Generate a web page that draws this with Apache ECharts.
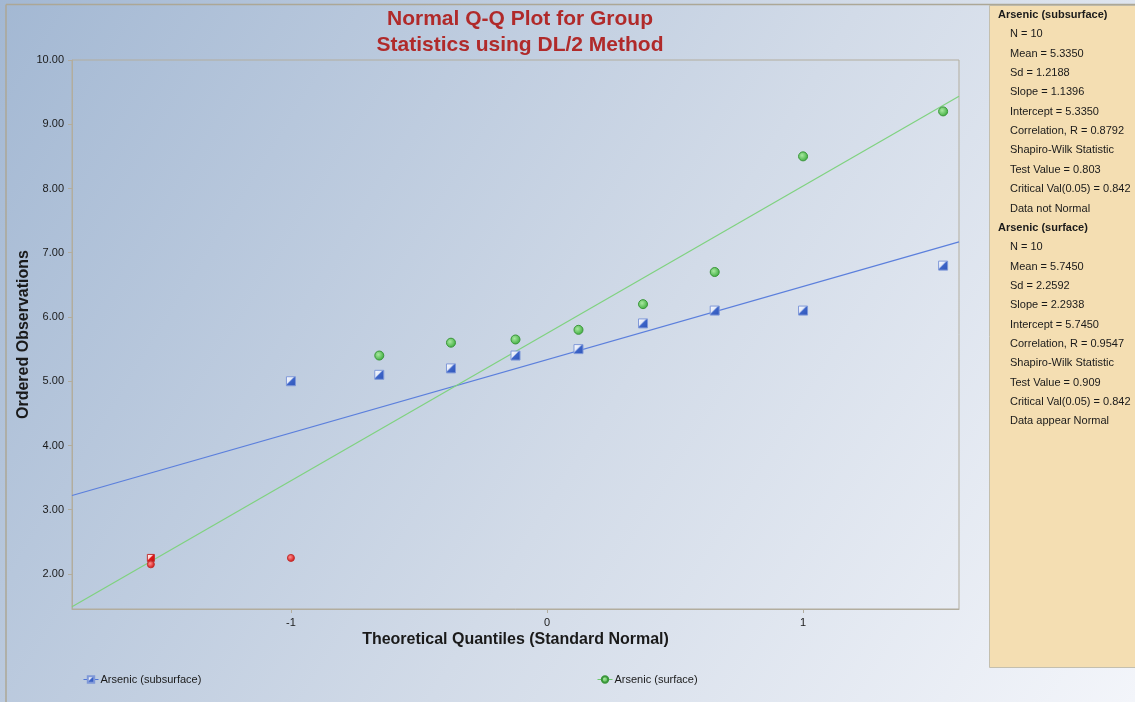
<!DOCTYPE html>
<html>
<head>
<meta charset="utf-8">
<script src="https://cdn.jsdelivr.net/npm/echarts@6/dist/echarts.min.js"></script>
<style>html,body{margin:0;padding:0;background:#fff}#c{width:1135px;height:702px}</style>
</head>
<body>
<div id="c"></div>
<script>
// ---- data ----
var quantiles = [-1.547, -1.000, -0.655, -0.375, -0.123, 0.123, 0.375, 0.655, 1.000, 1.547];
var subsurface = [2.25, 5.00, 5.10, 5.20, 5.40, 5.50, 5.90, 6.10, 6.10, 6.80];
var subsurfaceND = [true, false, false, false, false, false, false, false, false, false];
var surface = [2.15, 2.25, 5.40, 5.60, 5.65, 5.80, 6.20, 6.70, 8.50, 9.20];
var surfaceND = [true, true, false, false, false, false, false, false, false, false];
var subFit = {slope: 1.1396, intercept: 5.3350};
var surFit = {slope: 2.2938, intercept: 5.7450};
var xTicks = [-1, 0, 1];
var yTicks = [2, 3, 4, 5, 6, 7, 8, 9, 10];
var xRange = [-1.855, 1.609];
var yRange = [1.455, 10];
var seriesNames = ['Arsenic (subsurface)', 'Arsenic (surface)'];
var statsSub = ['N = 10', 'Mean = 5.3350', 'Sd = 1.2188', 'Slope = 1.1396', 'Intercept = 5.3350',
  'Correlation, R = 0.8792', 'Shapiro-Wilk Statistic', 'Test Value = 0.803', 'Critical Val(0.05) = 0.842', 'Data not Normal'];
var statsSur = ['N = 10', 'Mean = 5.7450', 'Sd = 2.2592', 'Slope = 2.2938', 'Intercept = 5.7450',
  'Correlation, R = 0.9547', 'Shapiro-Wilk Statistic', 'Test Value = 0.909', 'Critical Val(0.05) = 0.842', 'Data appear Normal'];

// ---- styles ----
var FONT = 'Liberation Sans, Arial, sans-serif';
var blueSq = {type:'linear', x:0, y:0, x2:1, y2:1, colorStops:[{offset:0,color:'#ffffff'},{offset:0.4,color:'#e4eaf8'},{offset:0.5,color:'#3c64c8'},{offset:1,color:'#2f55b8'}]};
var redSq = {type:'linear', x:0, y:0, x2:1, y2:1, colorStops:[{offset:0,color:'#ffffff'},{offset:0.4,color:'#ffd0d0'},{offset:0.5,color:'#e01818'},{offset:1,color:'#c01010'}]};
var greenC = {type:'radial', x:0.4, y:0.4, r:0.6, colorStops:[{offset:0,color:'#a8e8a0'},{offset:1,color:'#3fae3f'}]};
var redC = {type:'radial', x:0.4, y:0.4, r:0.6, colorStops:[{offset:0,color:'#ff9090'},{offset:1,color:'#d01010'}]};

function pts(vals, nd, ndColor, ndSize) {
  return quantiles.map(function (q, i) {
    var o = {value: [q, vals[i]]};
    if (nd[i]) { o.itemStyle = {color: ndColor, borderColor: '#c03030'}; o.symbolSize = ndSize; }
    return o;
  });
}
function fitLine(f) {
  return xRange.map(function (x) { return [x, f.intercept + f.slope * x]; });
}

// ---- right panel graphics ----
var panel = [];
panel.push({type:'rect', left: 989, top: 5, shape:{width: 146, height: 662}, style:{fill:'#f4deb2', stroke:'#c4bfae', lineWidth:1}, silent:true, z:0});
var rowH = 19.35, y0 = 16.5;
function addBlock(header, lines, start) {
  panel.push({type:'text', left: 998, top: y0 + start*rowH - 7, style:{text: header, font: 'bold 11px ' + FONT, fill:'#1a1a1a'}, z:1});
  lines.forEach(function (t, i) {
    panel.push({type:'text', left: 1010, top: y0 + (start+1+i)*rowH - 7, style:{text: t, font: '11px ' + FONT, fill:'#1a1a1a'}, z:1});
  });
}
addBlock(seriesNames[0], statsSub, 0);
addBlock(seriesNames[1], statsSur, 11);
// outer frame lines
panel.push({type:'line', shape:{x1:6, y1:4.5, x2:1135, y2:4.5}, style:{stroke:'#aca796', lineWidth:1.5}, silent:true});
panel.push({type:'line', shape:{x1:6, y1:4.5, x2:6, y2:702}, style:{stroke:'#aca796', lineWidth:1.5}, silent:true});

var chart = echarts.init(document.getElementById('c'), null, {renderer:'canvas'});
chart.setOption({
  backgroundColor: {type:'linear', x:0, y:0, x2:1, y2:1, colorStops:[{offset:0,color:'#a3b8d3'},{offset:0.55,color:'#d2dbe8'},{offset:1,color:'#f3f5fa'}]},
  animation: false,
  title: {
    text: 'Normal Q-Q Plot for Group\nStatistics using DL/2 Method',
    left: 515, top: 1, textAlign: 'center',
    textStyle: {color:'#b02a2a', fontSize: 21, fontWeight:'bold', fontFamily: FONT, lineHeight: 26}
  },
  grid: {left: 72, right: 176, top: 60, bottom: 93, show: true, borderColor:'#b2ad9e', borderWidth:1, backgroundColor:'transparent'},
  xAxis: {
    type:'value', min: xRange[0], max: xRange[1],
    name: 'Theoretical Quantiles (Standard Normal)', nameLocation:'middle', nameGap: 23, nameMoveOverlap: false,
    nameTextStyle: {fontSize: 16, fontWeight:'bold', fontFamily: FONT, color:'#1a1a1a'},
    axisLine: {show:true, onZero:false, lineStyle:{color:'#b2ad9e'}},
    axisTick: {show:true, length:4, lineStyle:{color:'#b2ad9e'}, customValues: xTicks},
    axisLabel: {customValues: xTicks, fontSize: 11, fontFamily: FONT, color:'#1a1a1a', margin: 8, formatter: function (v) { return String(v); }},
    splitLine: {show:false}
  },
  yAxis: {
    type:'value', min: yRange[0], max: yRange[1],
    name: 'Ordered Observations', nameLocation:'middle', nameGap: 40, nameRotate: 90, nameMoveOverlap: false,
    nameTextStyle: {fontSize: 16, fontWeight:'bold', fontFamily: FONT, color:'#1a1a1a'},
    axisLine: {show:true, onZero:false, lineStyle:{color:'#b2ad9e'}},
    axisTick: {show:true, length:4, lineStyle:{color:'#b2ad9e'}, customValues: yTicks},
    axisLabel: {customValues: yTicks, fontSize: 11, fontFamily: FONT, color:'#1a1a1a', margin: 8, formatter: function (v) { return v.toFixed(2); }},
    splitLine: {show:false}
  },
  legend: [
    {data:[seriesNames[0]], left: 78, top: 669, itemWidth: 15, itemHeight: 8, itemGap: 2,
     textStyle:{fontSize:11, fontFamily: FONT, color:'#1a1a1a', padding:[0,0,0,-3]}, lineStyle:{opacity:1, width:1}},
    {data:[seriesNames[1]], left: 592, top: 669, itemWidth: 15, itemHeight: 8, itemGap: 2,
     textStyle:{fontSize:11, fontFamily: FONT, color:'#1a1a1a', padding:[0,0,0,-3]}, lineStyle:{opacity:1, width:1}}
  ],
  series: [
    {name: seriesNames[0] + ' fit', type:'line', data: fitLine(subFit), symbol:'none', lineStyle:{color:'#5b7fdc', width:1.2}, z:2, silent:true},
    {name: seriesNames[1] + ' fit', type:'line', data: fitLine(surFit), symbol:'none', lineStyle:{color:'#7fd27f', width:1.2}, z:2, silent:true},
    {name: seriesNames[0], type:'line', data: pts(subsurface, subsurfaceND, redSq, 7),
     symbol:'rect', symbolSize: 9, lineStyle:{opacity:0, color:'#4f74d6'},
     itemStyle:{color: blueSq, borderColor:'#7f98d8', borderWidth:1, opacity:1}, z:3},
    {name: seriesNames[1], type:'line', data: pts(surface, surfaceND, redC, 7),
     symbol:'circle', symbolSize: 9, lineStyle:{opacity:0, color:'#6cc86c'},
     itemStyle:{color: greenC, borderColor:'#3a963a', borderWidth:1, opacity:1}, z:3}
  ],
  graphic: panel
});
</script>
</body>
</html>
